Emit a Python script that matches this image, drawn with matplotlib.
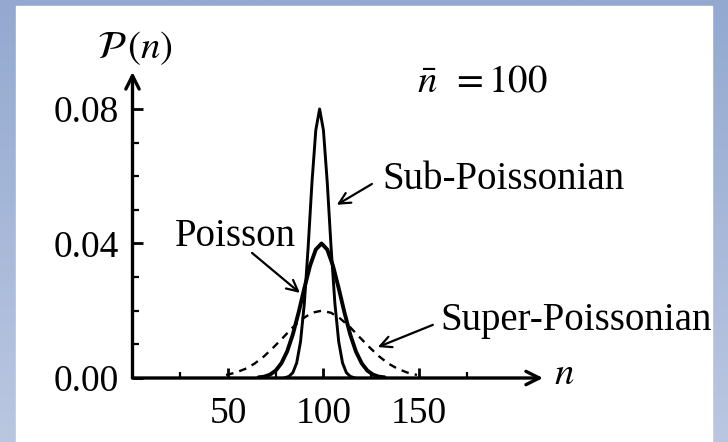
import numpy as np
import matplotlib
matplotlib.use('Agg')
import matplotlib.pyplot as plt
from matplotlib.patches import Rectangle

plt.rcParams['font.family'] = ['Liberation Serif', 'DejaVu Serif']
plt.rcParams['mathtext.fontset'] = 'stix'

# curves
sub_n = [80, 82, 84, 86, 88, 90, 92, 94, 96, 98, 100, 102, 104, 106, 108, 110, 112, 114, 116]
sub_p = [0.0001, 0.0005, 0.0016, 0.0045, 0.0108, 0.0222, 0.0389, 0.0582, 0.0737, 0.0800,
         0.0737, 0.0582, 0.0389, 0.0222, 0.0108, 0.0045, 0.0016, 0.0005, 0.0001]

poi_n = [66, 69, 72, 75, 78, 81, 84, 87, 90, 93, 96, 99, 102, 105, 108, 111, 114, 117, 120, 123, 126, 129, 132]
poi_p = [0.0002, 0.0004, 0.0010, 0.0022, 0.0044, 0.0079, 0.0130, 0.0195, 0.0267, 0.0334, 0.0382, 0.0400,
         0.0382, 0.0334, 0.0267, 0.0195, 0.0130, 0.0079, 0.0044, 0.0022, 0.0010, 0.0004, 0.0002]

sup_n = [49, 54, 59, 64, 69, 74, 79, 84, 89, 94, 99, 104, 109, 114, 119, 124, 129, 134, 139, 144, 149]
sup_p = [0.0009, 0.0016, 0.0027, 0.0043, 0.0065, 0.0092, 0.0121, 0.0151, 0.0176, 0.0194, 0.0200,
         0.0194, 0.0176, 0.0151, 0.0121, 0.0092, 0.0065, 0.0043, 0.0027, 0.0016, 0.0009]

y_ticks = [0.0, 0.04, 0.08]
y_labels = ['0.00', '0.04', '0.08']
x_ticks = [50, 100, 150]
x_labels = ['50', '100', '150']

W, H = 728, 442
fig = plt.figure(figsize=(W / 100, H / 100), dpi=100)

# blue gradient frame + white panel
bg = fig.add_axes([0, 0, 1, 1])
grad = np.linspace(0, 1, 256).reshape(-1, 1)
top = np.array([147, 169, 208]) / 255
bot = np.array([186, 199, 225]) / 255
img = top[None, None, :] * (1 - grad[:, :, None]) + bot[None, None, :] * grad[:, :, None]
bg.imshow(img, aspect='auto', extent=[0, W, H, 0])
bg.add_patch(Rectangle((16, 6), 712 - 16, H - 6, color='white'))
bg.set_xlim(0, W)
bg.set_ylim(H, 0)
bg.axis('off')

# main plot, placed by pixel
x0, x1 = 132.5, 543
y0, y1 = 378, 72
ax = fig.add_axes([x0 / W, (H - y0) / H, (x1 - x0) / W, (y0 - y1) / H])
ax.patch.set_alpha(0)
ax.set_xlim(0, 215)
ax.set_ylim(0, 0.091)
for s in ax.spines.values():
    s.set_visible(False)

k = 'black'
ax.plot(poi_n, poi_p, color=k, lw=2.8, solid_capstyle='round')
ax.plot(sub_n, sub_p, color=k, lw=2.1)
ax.plot(sup_n, sup_p, color=k, lw=1.7, dashes=(3.2, 2.6))

# axes with arrows
ax.annotate('', xy=(1.0, 0), xytext=(0, 0), xycoords='axes fraction',
            arrowprops=dict(arrowstyle='->', lw=2.4, color=k, mutation_scale=24, shrinkA=0, shrinkB=0))
ax.annotate('', xy=(0, 1.0), xytext=(0, 0), xycoords='axes fraction',
            arrowprops=dict(arrowstyle='->', lw=2.4, color=k, mutation_scale=24, shrinkA=0, shrinkB=0))

ax.set_yticks(y_ticks)
ax.set_yticklabels(y_labels)
ax.set_yticks([0.01, 0.02, 0.03, 0.05, 0.06, 0.07], minor=True)
ax.set_xticks(x_ticks)
ax.set_xticklabels(x_labels)
ax.set_xticks([25, 75, 125, 175], minor=True)
ax.tick_params(axis='both', which='major', direction='in', length=7, width=2, labelsize=27, color=k)
ax.tick_params(axis='both', which='minor', direction='in', length=4, width=1.6, color=k)
ax.tick_params(axis='y', which='major', pad=10)
ax.tick_params(axis='x', which='major', pad=13)

fs = 28
ax.text(1.3, 0.098, r'$\mathcal{P}\,(n)$', fontsize=fs, ha='center', va='center', clip_on=False)
ax.text(226, 0.001, r'$n$', fontsize=fs, ha='center', va='center', clip_on=False)
ax.text(183, 0.088, r'$\bar{n}\ \,=100$', fontsize=fs, ha='center', va='center')

arr = dict(arrowstyle='->', lw=1.6, color=k, mutation_scale=20, shrinkA=0, shrinkB=0)
ax.text(131, 0.0589, 'Sub-Poissonian', fontsize=fs, ha='left', va='center')
ax.annotate('', xy=(107, 0.0515), xytext=(125.4, 0.0577), arrowprops=arr)
ax.text(53.7, 0.0422, 'Poisson', fontsize=fs, ha='center', va='center')
ax.annotate('', xy=(87.7, 0.0253), xytext=(62.6, 0.0372), arrowprops=arr)
ax.text(161, 0.0170, 'Super-Poissonian', fontsize=fs, ha='left', va='center', clip_on=False)
ax.annotate('', xy=(128.5, 0.0092), xytext=(157.3, 0.0158), arrowprops=arr, annotation_clip=False)

fig.savefig('out.png', dpi=100)
